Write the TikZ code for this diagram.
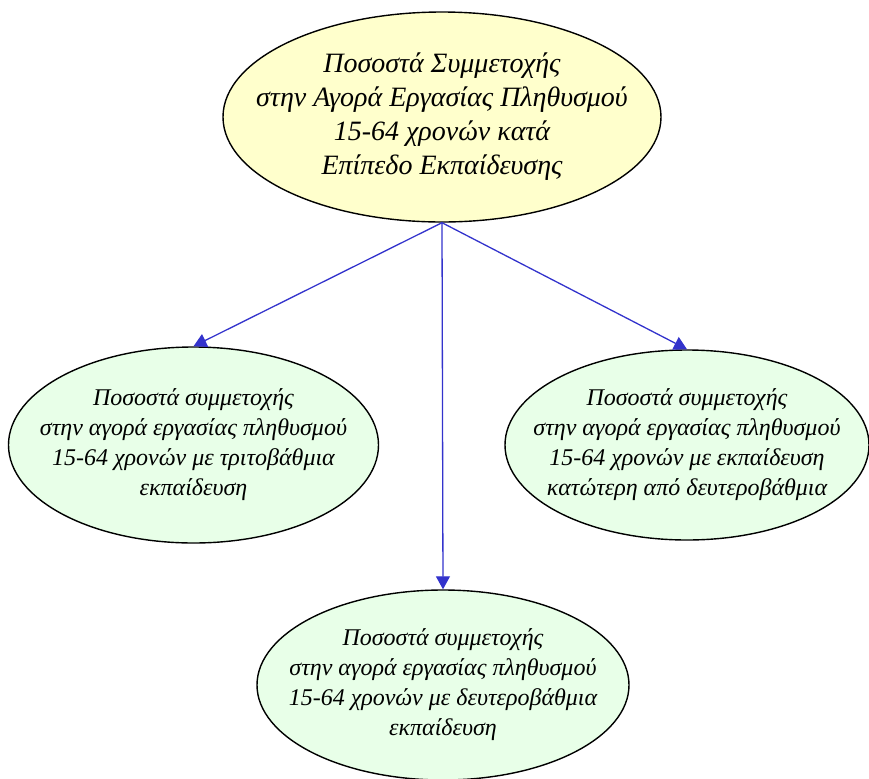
\documentclass[tikz,border=0pt]{standalone}
\usepackage{fontspec}
\setmainfont{Liberation Serif}
\usepackage{tikz}
\usetikzlibrary{arrows.meta,positioning,shapes.geometric}
\definecolor{rootyellow}{RGB}{255,255,204}
\definecolor{leafgreen}{RGB}{232,255,232}
\definecolor{linkblue}{RGB}{51,51,204}

\begin{document}
\begin{tikzpicture}[x=0.5pt,y=-0.5pt, every node/.style={font=\itshape}]
  \tikzset{
    rootnode/.style={ellipse,draw,line width=0.7pt,fill=rootyellow,inner xsep=-40pt,inner ysep=-12pt,align=center,
      minimum width=219pt,minimum height=105pt,font=\itshape\fontsize{14}{17}\selectfont},
    leafnode/.style={ellipse,draw,line width=0.7pt,fill=leafgreen,inner xsep=-40pt,inner ysep=-12pt,align=center,
      minimum height=95pt,font=\itshape\fontsize{12}{15}\selectfont},
    link/.style={-{Triangle[length=6.5pt,width=7pt]},color=linkblue,line width=0.65pt}
  }
  \useasboundingbox (0,0) rectangle (869,778);
  \node[rootnode] (root) at (442,117) {Ποσοστά Συμμετοχής\\στην Αγορά Εργασίας Πληθυσμού\\15-64 χρονών κατά\\Επίπεδο Εκπαίδευσης};
  \node[leafnode,minimum width=185pt,minimum height=98pt] (tertiary) at (193.5,445) {Ποσοστά συμμετοχής\\στην αγορά εργασίας πληθυσμού\\15-64 χρονών με τριτοβάθμια\\εκπαίδευση};
  \node[leafnode,minimum width=182pt] (lower) at (687,445) {Ποσοστά συμμετοχής\\στην αγορά εργασίας πληθυσμού\\15-64 χρονών με εκπαίδευση\\κατώτερη από δευτεροβάθμια};
  \node[leafnode,minimum width=186pt] (secondary) at (443,685) {Ποσοστά συμμετοχής\\στην αγορά εργασίας πληθυσμού\\15-64 χρονών με δευτεροβάθμια\\εκπαίδευση};
  \draw[link] (root.south) -- (tertiary.north);
  \draw[link] (root.south) -- (lower.north);
  \draw[link] (root.south) -- (secondary.north);
\end{tikzpicture}
\end{document}
